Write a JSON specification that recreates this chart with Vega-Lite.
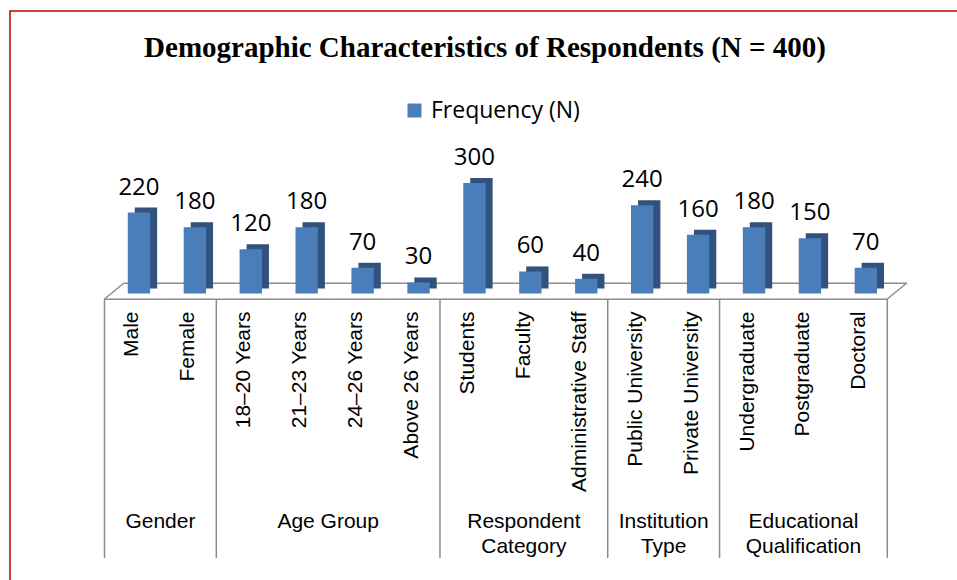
{
  "$schema": "https://vega.github.io/schema/vega-lite/v6.json",
  "autosize": "none",
  "padding": {"left": 10, "top": 11, "right": -3, "bottom": -3},
  "width": 950,
  "height": 572,
  "background": "white",
  "config": {
    "view": {"stroke": "#c00000", "strokeWidth": 1.5}
  },
  "title": {
    "text": "Demographic Characteristics of Respondents (N = 400)",
    "font": "Liberation Serif",
    "fontSize": 29,
    "fontWeight": "bold",
    "color": "black",
    "anchor": "middle",
    "baseline": "alphabetic",
    "offset": -75
  },
  "data": {
    "values": [
      {"series": "Frequency (N)", "group": "Gender", "label": "Male", "n": 220},
      {"series": "Frequency (N)", "group": "Gender", "label": "Female", "n": 180},
      {"series": "Frequency (N)", "group": "Age Group", "label": "18–20 Years", "n": 120},
      {"series": "Frequency (N)", "group": "Age Group", "label": "21–23 Years", "n": 180},
      {"series": "Frequency (N)", "group": "Age Group", "label": "24–26 Years", "n": 70},
      {"series": "Frequency (N)", "group": "Age Group", "label": "Above 26 Years", "n": 30},
      {"series": "Frequency (N)", "group": "Respondent Category", "label": "Students", "n": 300},
      {"series": "Frequency (N)", "group": "Respondent Category", "label": "Faculty", "n": 60},
      {"series": "Frequency (N)", "group": "Respondent Category", "label": "Administrative Staff", "n": 40},
      {"series": "Frequency (N)", "group": "Institution Type", "label": "Public University", "n": 240},
      {"series": "Frequency (N)", "group": "Institution Type", "label": "Private University", "n": 160},
      {"series": "Frequency (N)", "group": "Educational Qualification", "label": "Undergraduate", "n": 180},
      {"series": "Frequency (N)", "group": "Educational Qualification", "label": "Postgraduate", "n": 150},
      {"series": "Frequency (N)", "group": "Educational Qualification", "label": "Doctoral", "n": 70}
    ]
  },
  "layer": [
    {
      "mark": {"type": "bar", "color": "#8c8c8c", "width": {"band": 1}, "yOffset": 5, "y2Offset": 6.5},
      "encoding": {
        "x": {
          "field": "label",
          "type": "nominal",
          "scale": {
            "domain": ["Male", "Female", "18–20 Years", "21–23 Years", "24–26 Years", "Above 26 Years", "Students", "Faculty", "Administrative Staff", "Public University", "Private University", "Undergraduate", "Postgraduate", "Doctoral"],
            "range": [94.5, 877.3],
            "paddingInner": 0,
            "paddingOuter": 0
          },
          "axis": {
            "title": null,
            "orient": "bottom",
            "offset": -284,
            "labelAngle": -90,
            "labelPadding": 12,
            "ticks": false,
            "domain": false,
            "grid": false,
            "labelFont": "Liberation Sans",
            "labelFontSize": 21,
            "labelColor": "black",
            "labelLimit": 0,
            "labelOverlap": false,
            "labelBound": false
          }
        },
        "y": {
          "datum": 0,
          "type": "quantitative",
          "scale": {"domain": [-786.7, 767.7], "nice": false, "zero": false},
          "axis": null
        },
        "y2": {"datum": 0}
      }
    },
    {
      "mark": {"type": "bar", "color": "#8c8c8c", "width": {"band": 1}, "xOffset": 19.5, "yOffset": -11, "y2Offset": -9.5},
      "encoding": {
        "x": {"field": "label", "type": "nominal"},
        "y": {"datum": 0, "type": "quantitative"},
        "y2": {"datum": 0}
      }
    },
    {
      "data": {"values": [{}]},
      "mark": {"type": "rule", "color": "#8c8c8c", "strokeWidth": 1.5, "yOffset": 5.5, "y2Offset": -10.5, "x2Offset": 19.5},
      "encoding": {
        "x": {"datum": "Male", "type": "nominal", "bandPosition": 0},
        "x2": {"datum": "Male", "bandPosition": 0},
        "y": {"datum": 0, "type": "quantitative"},
        "y2": {"datum": 0}
      }
    },
    {
      "data": {"values": [{}]},
      "mark": {"type": "rule", "color": "#8c8c8c", "strokeWidth": 1.5, "yOffset": 5.5, "y2Offset": -10.5, "x2Offset": 19.5},
      "encoding": {
        "x": {"datum": "Doctoral", "type": "nominal", "bandPosition": 1},
        "x2": {"datum": "Doctoral", "bandPosition": 1},
        "y": {"datum": 0, "type": "quantitative"},
        "y2": {"datum": 0}
      }
    },
    {
      "mark": {"type": "bar", "color": "#31527f", "width": {"band": 0.4}, "xOffset": 13.5, "yOffset": -5, "y2Offset": -5},
      "encoding": {
        "x": {"field": "label", "type": "nominal"},
        "y": {"field": "n", "type": "quantitative"}
      }
    },
    {
      "mark": {"type": "bar", "width": {"band": 0.4}, "xOffset": 6.5},
      "encoding": {
        "x": {"field": "label", "type": "nominal"},
        "y": {"field": "n", "type": "quantitative"},
        "color": {
          "field": "series",
          "type": "nominal",
          "scale": {"range": ["#4a7ebb"]},
          "legend": {
            "orient": "none",
            "legendX": 393,
            "legendY": 88,
            "title": null,
            "symbolType": "square",
            "symbolSize": 196,
            "symbolStrokeWidth": 0,
            "labelFont": "Open Sans",
            "labelFontSize": 23,
            "labelColor": "black",
            "labelOffset": 5,
            "labelLimit": 0
          }
        }
      }
    },
    {
      "mark": {"type": "text", "font": "Open Sans", "fontSize": 24, "color": "black", "baseline": "alphabetic", "align": "center", "dy": -18, "xOffset": 6.5},
      "encoding": {
        "x": {"field": "label", "type": "nominal"},
        "y": {"field": "n", "type": "quantitative"},
        "text": {"field": "n", "type": "quantitative"}
      }
    },
    {
      "transform": [{"filter": "datum.label === 'Doctoral'"}],
      "mark": {"type": "rule", "color": "#8c8c8c", "strokeWidth": 1.5, "yOffset": 5.5, "y2Offset": 264.5},
      "encoding": {
        "x": {"field": "label", "type": "nominal", "bandPosition": 1},
        "y": {"datum": 0, "type": "quantitative"},
        "y2": {"datum": 0}
      }
    },
    {
      "data": {"values": [
        {"group": "Gender", "first": "Male", "anchor": "Male", "even": true},
        {"group": "Age Group", "first": "18–20 Years", "anchor": "21–23 Years", "even": true},
        {"group": "Respondent\nCategory", "first": "Students", "anchor": "Faculty", "even": false},
        {"group": "Institution\nType", "first": "Public University", "anchor": "Public University", "even": true},
        {"group": "Educational\nQualification", "first": "Undergraduate", "anchor": "Postgraduate", "even": false}
      ]},
      "layer": [
        {
          "mark": {"type": "rule", "color": "#8c8c8c", "strokeWidth": 1.5, "yOffset": 5.5, "y2Offset": 264.5},
          "encoding": {
            "x": {"field": "first", "type": "nominal", "bandPosition": 0},
            "y": {"datum": 0, "type": "quantitative"},
            "y2": {"datum": 0}
          }
        },
        {
          "transform": [{"filter": "datum.even"}],
          "mark": {"type": "text", "font": "Liberation Sans", "fontSize": 21, "color": "black", "baseline": "alphabetic", "align": "center", "lineBreak": "\n", "lineHeight": 25, "dy": 234.5},
          "encoding": {
            "x": {"field": "anchor", "type": "nominal", "bandPosition": 1},
            "y": {"datum": 0, "type": "quantitative"},
            "text": {"field": "group", "type": "nominal"}
          }
        },
        {
          "transform": [{"filter": "!datum.even"}],
          "mark": {"type": "text", "font": "Liberation Sans", "fontSize": 21, "color": "black", "baseline": "alphabetic", "align": "center", "lineBreak": "\n", "lineHeight": 25, "dy": 234.5},
          "encoding": {
            "x": {"field": "anchor", "type": "nominal", "bandPosition": 0.5},
            "y": {"datum": 0, "type": "quantitative"},
            "text": {"field": "group", "type": "nominal"}
          }
        }
      ]
    }
  ]
}
